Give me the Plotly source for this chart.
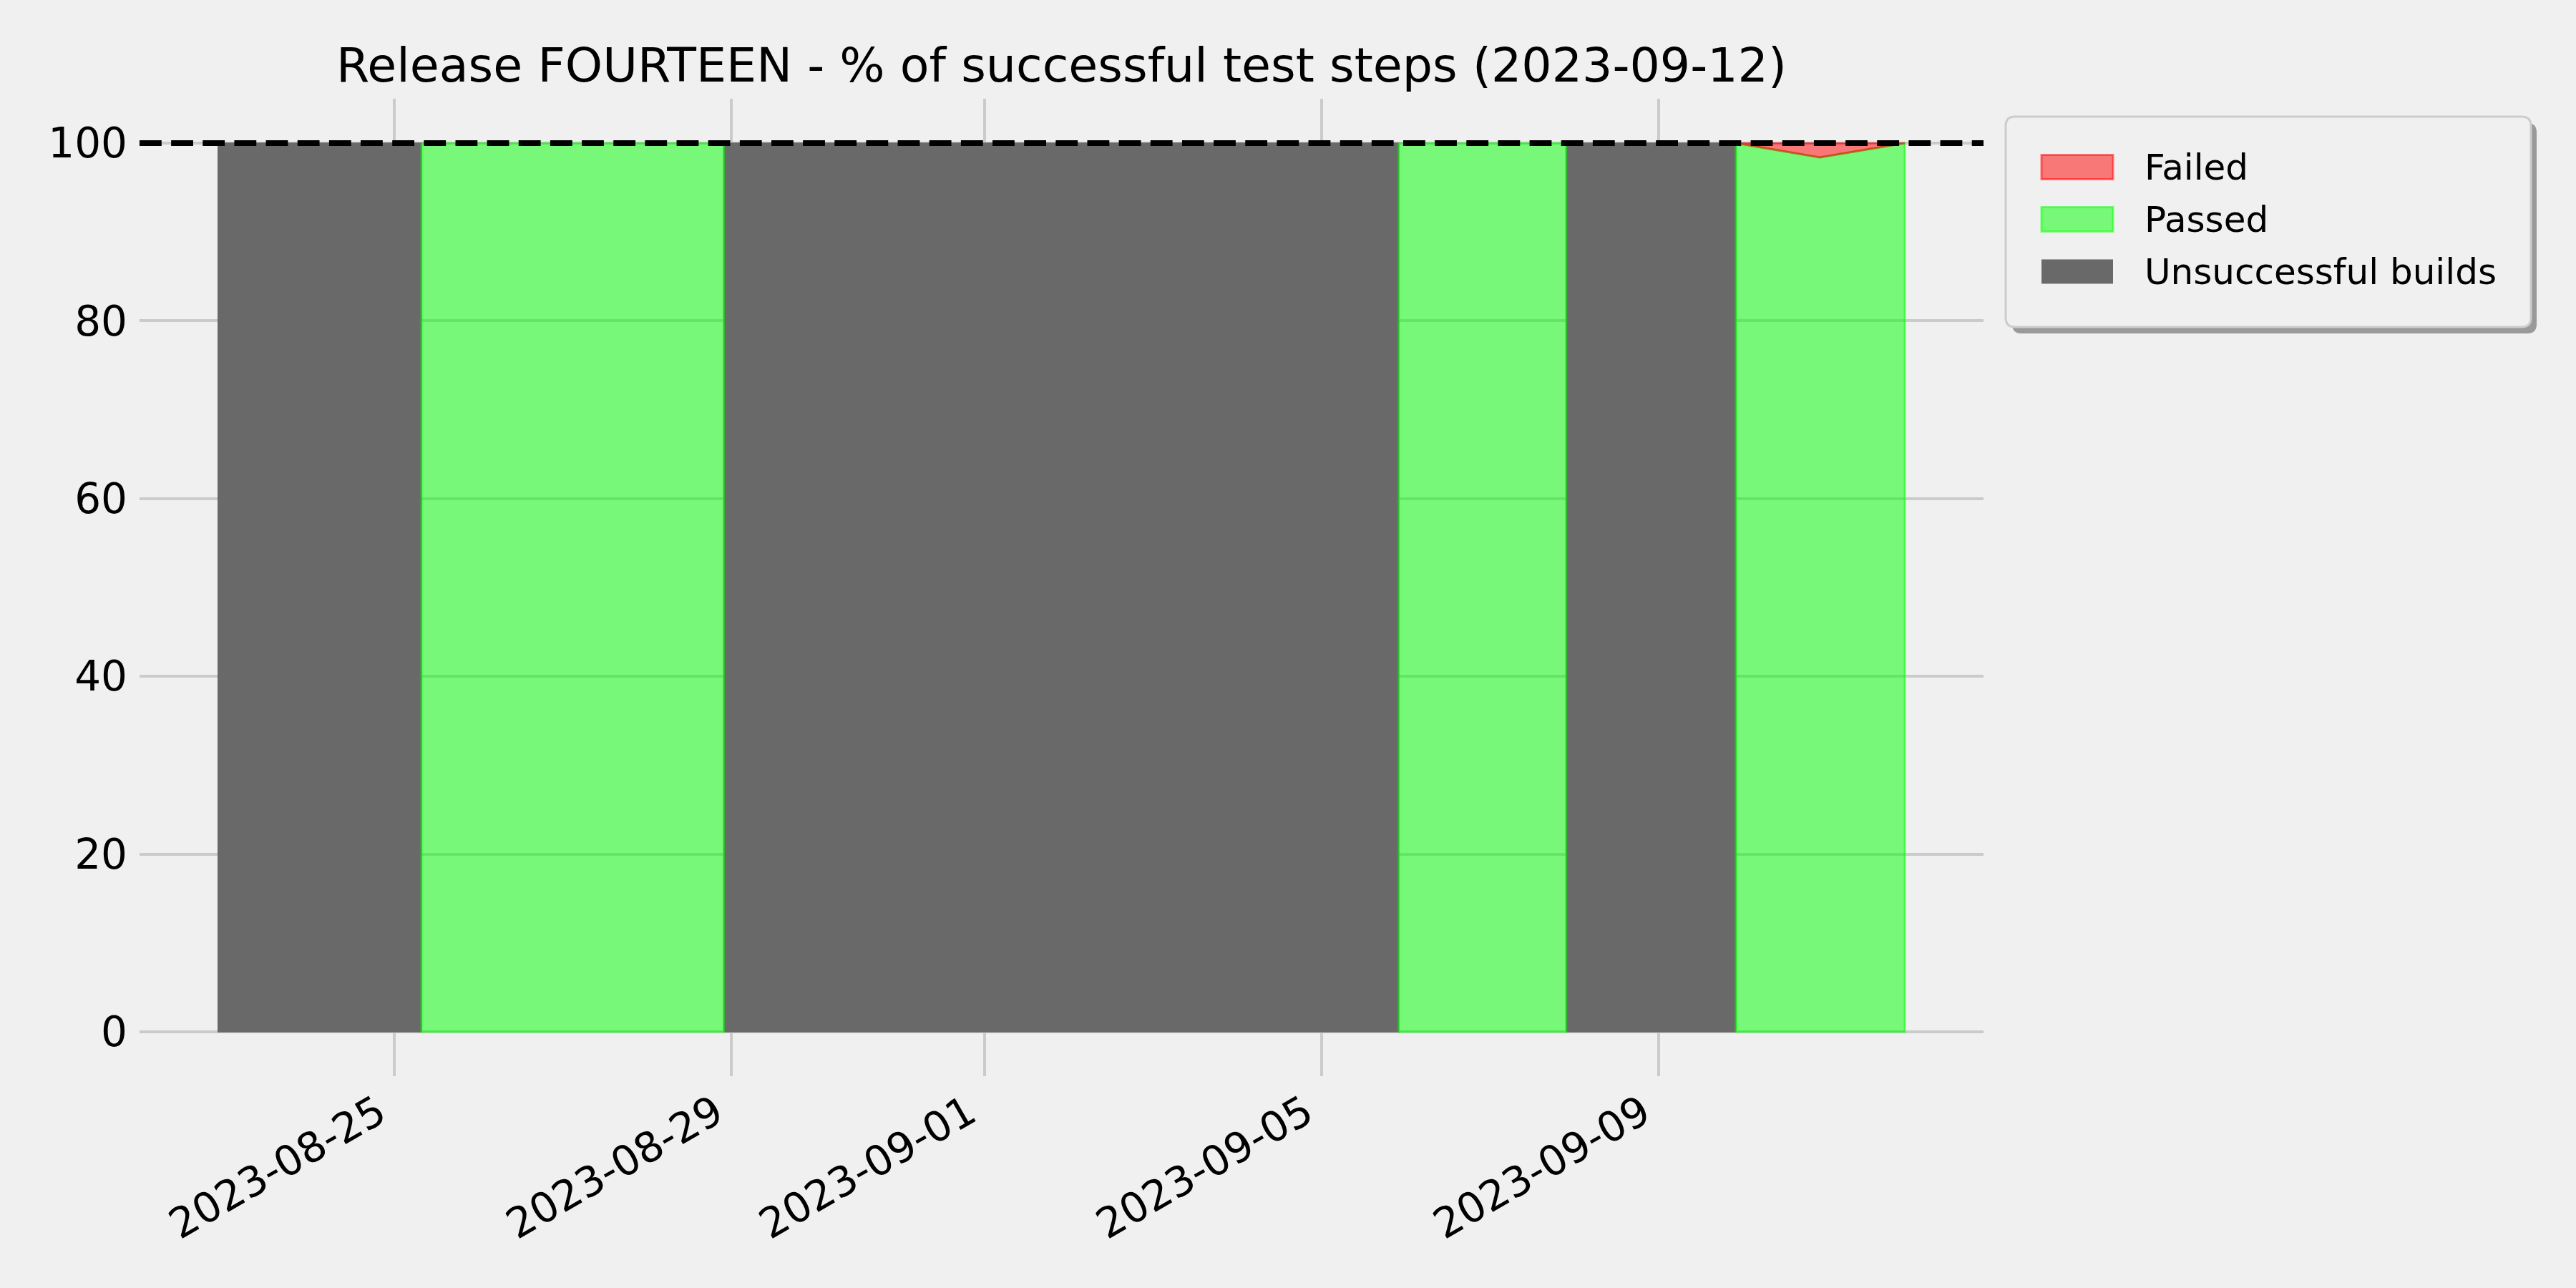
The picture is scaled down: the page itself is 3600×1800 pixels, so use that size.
import plotly.graph_objects as go

# ---------------- data ----------------
dates = ["2023-08-22 21:50", "2023-08-25 07:45", "2023-08-25 07:45", "2023-08-28 21:50",
         "2023-08-28 21:50", "2023-09-05 22:00", "2023-09-05 22:00", "2023-09-07 21:40",
         "2023-09-07 21:40", "2023-09-09 22:00", "2023-09-09 22:00", "2023-09-10 21:50",
         "2023-09-11 22:05"]
unsuccessful_builds = [100, 100, 0, 0, 100, 100, 0, 0, 100, 100, 0, 0, 0]
passed = [0, 0, 100, 100, 0, 0, 100, 100, 0, 0, 100, 98.4, 100]
failed = [0, 0, 0, 0, 0, 0, 0, 0, 0, 0, 0, 1.6, 0]
series_names = ["Unsuccessful builds", "Passed", "Failed"]
legend_order = ["Failed", "Passed", "Unsuccessful builds"]
x_tick_dates = ["2023-08-25", "2023-08-29", "2023-09-01", "2023-09-05", "2023-09-09"]
y_ticks = [0, 20, 40, 60, 80, 100]
target_pct = 100
x_range = ["2023-08-21 23:28", "2023-09-12 20:30"]
y_range = [-5, 105]
title_text = "Release FOURTEEN - % of successful test steps (2023-09-12)"

# ---------------- styles ----------------
FONT = "DejaVu Sans"
BG = "#f0f0f0"
GRID = "#cbcbcb"
fill_colors = {"Unsuccessful builds": "#696969",
               "Passed": "rgba(0,255,0,0.5)",
               "Failed": "rgba(255,0,0,0.5)"}
edge_colors = {"Unsuccessful builds": "#696969",
               "Passed": "rgba(0,255,0,0.5)",
               "Failed": "rgba(255,0,0,0.5)"}
edge_widths = {"Unsuccessful builds": 1.5, "Passed": 3, "Failed": 3}

# plot area in pixels
W_FIG, H_FIG = 3600, 1800
L, R, T, B = 195, 2772, 138, 1504
PW, PH = R - L, B - T


def layer_polygons(xs, base, values):
    """Build polygons (separated by None) for a stacked layer."""
    px, py = [], []
    n = len(xs)
    segs = [values[k] > 0 or values[k + 1] > 0 for k in range(n - 1)]
    k = 0
    while k < n - 1:
        if segs[k]:
            start = k
            while k < n - 1 and segs[k]:
                k += 1
            idx = list(range(start, k + 1))
            top = [base[j] + values[j] for j in idx]
            bot = [base[j] for j in idx]
            px += [xs[j] for j in idx] + [xs[j] for j in reversed(idx)] + [xs[start], None]
            py += top + bot[::-1] + [top[0], None]
        else:
            k += 1
    return px, py


fig = go.Figure()

layers = {"Unsuccessful builds": unsuccessful_builds, "Passed": passed, "Failed": failed}
base = [0] * len(dates)
for name in series_names:
    vals = layers[name]
    xs, ys = layer_polygons(dates, base, vals)
    fig.add_trace(go.Scatter(
        x=xs, y=ys, mode="lines", fill="toself", name=name,
        fillcolor=fill_colors[name],
        line=dict(color=edge_colors[name], width=edge_widths[name]),
        hoverinfo="skip", showlegend=False, connectgaps=False,
    ))
    base = [b + v for b, v in zip(base, vals)]

# dashed 100% reference line
fig.add_shape(type="line", xref="paper", yref="y",
              x0=0, x1=1, y0=target_pct, y1=target_pct,
              line=dict(color="black", width=8, dash="30.8px,13.35px"),
              layer="above")


# ---------------- custom legend (matplotlib-like box with shadow) ----------------
def fx(p):
    return (p - L) / PW


def fy(p):
    return (B - p) / PH


def rounded_path(x0, y0, x1, y1, r):
    pts = [("M", [(x0 + r, y0)]), ("L", [(x1 - r, y0)]), ("Q", [(x1, y0), (x1, y0 + r)]),
           ("L", [(x1, y1 - r)]), ("Q", [(x1, y1), (x1 - r, y1)]),
           ("L", [(x0 + r, y1)]), ("Q", [(x0, y1), (x0, y1 - r)]),
           ("L", [(x0, y0 + r)]), ("Q", [(x0, y0), (x0 + r, y0)])]
    s = ""
    for cmd, ps in pts:
        s += cmd + " " + " ".join(f"{fx(a):.6f},{fy(b):.6f}" for a, b in ps) + " "
    return s + "Z"


# shadow
fig.add_shape(type="path", xref="paper", yref="paper",
              path=rounded_path(2812, 172, 3545, 466, 13),
              fillcolor="#9a9a9a", line=dict(width=0), layer="above")
# box
fig.add_shape(type="path", xref="paper", yref="paper",
              path=rounded_path(2803, 163, 3537, 457, 13),
              fillcolor=BG, line=dict(color="#cccccc", width=3), layer="above")

row_centers = [233.5, 306.5, 379.5]
for name, yc in zip(legend_order, row_centers):
    lw = edge_widths[name] if name != "Unsuccessful builds" else 0
    fig.add_shape(type="rect", xref="paper", yref="paper",
                  x0=fx(2853), x1=fx(2953), y0=fy(yc - 17), y1=fy(yc + 17),
                  fillcolor=fill_colors[name],
                  line=dict(color=edge_colors[name], width=lw), layer="above")
    fig.add_annotation(xref="paper", yref="paper", x=fx(2995), y=fy(yc),
                       text=name, showarrow=False, xanchor="left", yanchor="middle",
                       font=dict(family=FONT, size=50, color="black"))

fig.update_layout(
    width=W_FIG, height=H_FIG, autosize=False,
    margin=dict(l=L, r=W_FIG - R, t=T, b=H_FIG - B, pad=0),
    paper_bgcolor=BG, plot_bgcolor=BG,
    font=dict(family=FONT, color="black", size=58),
    showlegend=False,
    title=dict(text=title_text, x=0.5, xref="paper", xanchor="center",
               y=1 - 91 / H_FIG, yref="container", yanchor="middle",
               font=dict(family=FONT, size=66.6, color="black")),
)
fig.update_xaxes(type="date", range=x_range, tickvals=x_tick_dates, ticktext=x_tick_dates,
                 tickangle=-30, tickfont=dict(family=FONT, size=58, color="black"),
                 showgrid=True, gridcolor=GRID, gridwidth=4, zeroline=False,
                 showline=False, ticks="", ticklabelstandoff=5, ticklabelshift=-22)
fig.update_yaxes(range=y_range, tickvals=y_ticks, ticktext=[str(v) for v in y_ticks],
                 tickfont=dict(family=FONT, size=58, color="black"),
                 showgrid=True, gridcolor=GRID, gridwidth=4, zeroline=False,
                 showline=False, ticks="", ticklabelstandoff=16)

fig.write_html("out.html",
               config={"displayModeBar": False},
               post_script="document.body.style.margin='0px';"
                           "document.body.style.overflow='hidden';"
                           "document.body.style.background='#f0f0f0';")
